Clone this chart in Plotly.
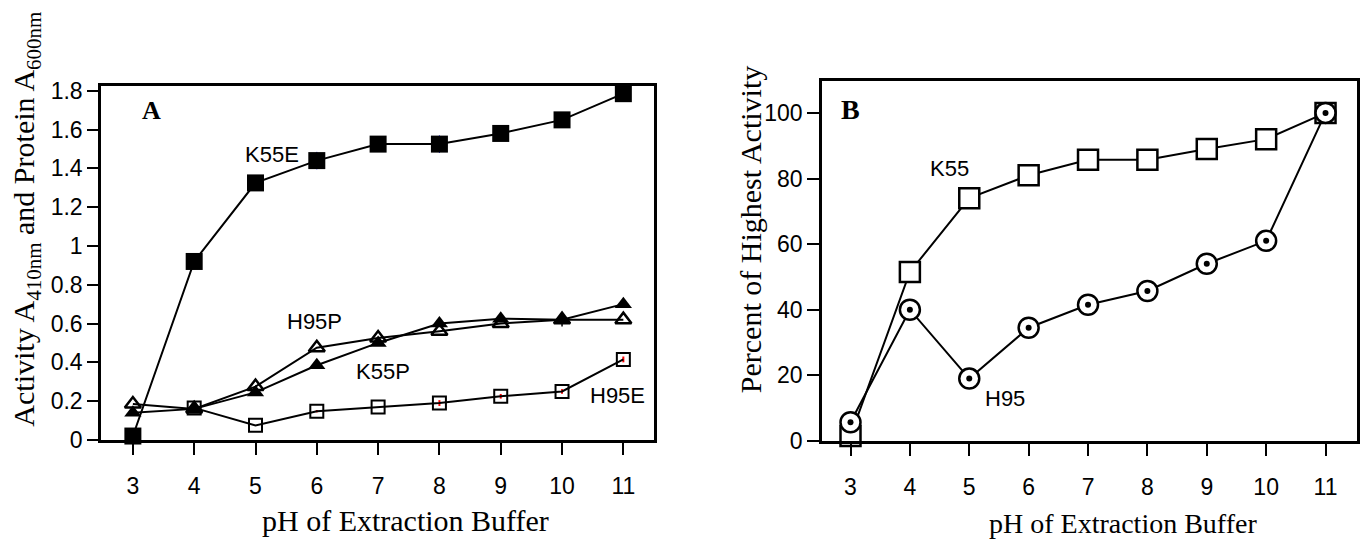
import plotly.graph_objects as go

# ---------------- data ----------------
ph = [3, 4, 5, 6, 7, 8, 9, 10, 11]

# Panel A: Activity A410nm and Protein A600nm
k55e = [0.02, 0.92, 1.325, 1.44, 1.525, 1.525, 1.58, 1.65, 1.785]
k55p = [0.14, 0.16, 0.245, 0.385, 0.50, 0.60, 0.625, 0.62, 0.70]
h95p = [0.185, 0.16, 0.275, 0.475, 0.525, 0.56, 0.60, 0.62, 0.62]
h95e = [None, 0.165, 0.075, 0.148, 0.17, 0.19, 0.225, 0.25, 0.415]
k55e_err = [0, 0, 0, 0.045, 0, 0.045, 0, 0, 0]
h95e_err = [0, 0, 0, 0.006, 0, 0.015, 0.012, 0.012, 0.015]
k55p_err = [0, 0, 0, 0, 0, 0, 0, 0.035, 0]

# Panel B: Percent of highest activity
k55 = [1.5, 51.5, 74, 81, 85.7, 85.7, 89, 92, 100]
h95 = [5.7, 40, 19, 34.5, 41.5, 45.7, 54, 61, 100]

a_yticks = [0, 0.2, 0.4, 0.6, 0.8, 1.0, 1.2, 1.4, 1.6, 1.8]
a_yticktext = ["0", "0.2", "0.4", "0.6", "0.8", "1", "1.2", "1.4", "1.6", "1.8"]
b_yticks = [0, 20, 40, 60, 80, 100]
b_yticktext = ["0", "20", "40", "60", "80", "100"]
xticks = ph
xticktext = [str(v) for v in ph]

SANS = "Liberation Sans, Arial, sans-serif"
SERIF = "Liberation Serif, Times New Roman, serif"

W, H = 1361, 552


def px(xp):
    return xp / W


def py(yp):
    return 1 - yp / H


fig = go.Figure()

line = dict(color="black", width=2)

# ---- Panel A traces ----
fig.add_trace(go.Scatter(
    x=ph, y=h95e, mode="lines+markers", line=line, connectgaps=False,
    marker=dict(symbol="square-open", size=13, color="black", line=dict(width=2)),
    error_y=dict(type="data", array=h95e_err, color="red", thickness=2, width=0),
    xaxis="x", yaxis="y", cliponaxis=False, name="H95E"))
fig.add_trace(go.Scatter(
    x=ph, y=h95p, mode="lines+markers", line=line,
    marker=dict(symbol="triangle-up-open", size=14, color="black", line=dict(width=2.5)),
    xaxis="x", yaxis="y", cliponaxis=False, name="H95P"))
fig.add_trace(go.Scatter(
    x=ph, y=k55p, mode="lines+markers", line=line,
    marker=dict(symbol="triangle-up", size=15, color="black"),
    error_y=dict(type="data", array=k55p_err, color="black", thickness=1.5, width=0),
    xaxis="x", yaxis="y", cliponaxis=False, name="K55P"))
fig.add_trace(go.Scatter(
    x=ph, y=k55e, mode="lines+markers", line=line,
    marker=dict(symbol="square", size=17, color="black"),
    error_y=dict(type="data", array=k55e_err, color="blue", thickness=1, width=0),
    xaxis="x", yaxis="y", cliponaxis=False, name="K55E"))

# ---- Panel B traces ----
fig.add_trace(go.Scatter(
    x=ph, y=k55, mode="lines+markers", line=line,
    marker=dict(symbol="square", size=20, color="white", line=dict(color="black", width=2.5)),
    xaxis="x2", yaxis="y2", cliponaxis=False, name="K55"))
fig.add_trace(go.Scatter(
    x=ph, y=h95, mode="lines+markers", line=line,
    marker=dict(symbol="circle", size=20, color="white", line=dict(color="black", width=2.5)),
    xaxis="x2", yaxis="y2", cliponaxis=False, name="H95"))
# centre dots of the H95 circles
fig.add_trace(go.Scatter(
    x=ph, y=h95, mode="markers",
    marker=dict(symbol="circle", size=6, color="black"),
    xaxis="x2", yaxis="y2", cliponaxis=False, name="H95 dot", hoverinfo="skip"))

axis_common = dict(
    showline=True, mirror=True, linecolor="black", linewidth=2.5,
    ticks="outside", tickwidth=2, tickcolor="black",
    showgrid=False, zeroline=False,
)
tickfont = dict(family=SANS, size=23, color="black")

fig.update_layout(
    width=W, height=H,
    margin=dict(l=0, r=0, t=0, b=0),
    paper_bgcolor="white", plot_bgcolor="white",
    showlegend=False,
    xaxis=dict(domain=[px(101), px(654)], range=[2.48, 11.5],
               tickvals=xticks, ticktext=xticktext, ticklen=12,
               ticklabelstandoff=12, tickfont=tickfont,
               anchor="y", **axis_common),
    yaxis=dict(domain=[py(449), py(81)], range=[0, 1.825],
               tickvals=a_yticks, ticktext=a_yticktext, ticklen=11,
               tickfont=tickfont, anchor="x", **axis_common),
    xaxis2=dict(domain=[px(822), px(1357)], range=[2.52, 11.53],
                tickvals=xticks, ticktext=xticktext, ticklen=12,
                ticklabelstandoff=12, tickfont=tickfont,
                anchor="y2", **axis_common),
    yaxis2=dict(domain=[py(450), py(76)], range=[0, 109.7],
                tickvals=b_yticks, ticktext=b_yticktext, ticklen=12,
                tickfont=tickfont, anchor="x2", **axis_common),
)

annotations = [
    # axis titles
    dict(text="Activity A<sub>410nm</sub> and Protein A<sub>600nm</sub>",
         x=px(26), y=py(220), xref="paper", yref="paper",
         textangle=-90, showarrow=False, xanchor="center", yanchor="middle",
         font=dict(family=SERIF, size=30, color="black")),
    dict(text="pH of Extraction Buffer", x=px(405), y=py(533),
         xref="paper", yref="paper", showarrow=False,
         xanchor="center", yanchor="middle",
         font=dict(family=SERIF, size=30, color="black")),
    dict(text="Percent of Highest Activity",
         x=px(750), y=py(231), xref="paper", yref="paper",
         textangle=-90, showarrow=False, xanchor="center", yanchor="middle",
         font=dict(family=SERIF, size=30, color="black")),
    dict(text="pH of Extraction Buffer", x=px(1123), y=py(536),
         xref="paper", yref="paper", showarrow=False,
         xanchor="center", yanchor="middle",
         font=dict(family=SERIF, size=28, color="black")),
    # panel letters
    dict(text="<b>A</b>", x=3.31, y=1.70, xref="x", yref="y", showarrow=False,
         xanchor="center", yanchor="middle",
         font=dict(family=SERIF, size=26, color="black")),
    dict(text="<b>B</b>", x=3.0, y=101, xref="x2", yref="y2", showarrow=False,
         xanchor="center", yanchor="middle",
         font=dict(family=SERIF, size=28, color="black")),
    # series labels panel A
    dict(text="K55E", x=5.27, y=1.473, xref="x", yref="y", showarrow=False,
         xanchor="center", yanchor="middle",
         font=dict(family=SANS, size=22, color="black")),
    dict(text="H95P", x=5.97, y=0.61, xref="x", yref="y", showarrow=False,
         xanchor="center", yanchor="middle",
         font=dict(family=SANS, size=22, color="black")),
    dict(text="K55P", x=7.08, y=0.352, xref="x", yref="y", showarrow=False,
         xanchor="center", yanchor="middle",
         font=dict(family=SANS, size=22, color="black")),
    dict(text="H95E", x=10.91, y=0.228, xref="x", yref="y", showarrow=False,
         xanchor="center", yanchor="middle",
         font=dict(family=SANS, size=22, color="black")),
    # series labels panel B
    dict(text="K55", x=4.67, y=83, xref="x2", yref="y2", showarrow=False,
         xanchor="center", yanchor="middle",
         font=dict(family=SANS, size=22, color="black")),
    dict(text="H95", x=5.61, y=12.9, xref="x2", yref="y2", showarrow=False,
         xanchor="center", yanchor="middle",
         font=dict(family=SANS, size=22, color="black")),
]
fig.update_layout(annotations=annotations)

fig.write_html("out.html",
               config={"displayModeBar": False},
               post_script="document.body.style.margin='0';document.body.style.overflow='hidden';")
